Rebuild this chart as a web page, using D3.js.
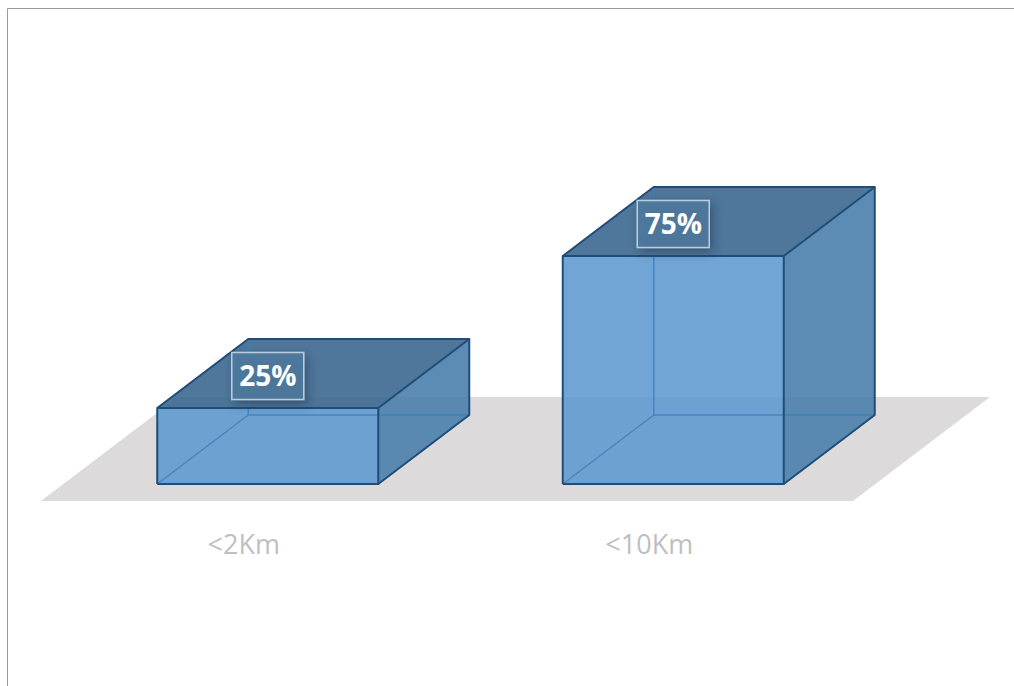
<!DOCTYPE html>
<html>
<head>
<meta charset="utf-8">
<script src="https://cdn.jsdelivr.net/npm/d3@7"></script>
<style>
  html, body { margin: 0; padding: 0; background: #fff; }
</style>
</head>
<body>
<div id="chart-area"></div>
<script>
const categories = ["<2Km", "<10Km"]
const values = [25, 75]
const valueLabels = ["25%", "75%"]

const WIDTH = 1014
const HEIGHT = 686
const BASE_Y = 484          // front bottom edge of the boxes
const BAR_W = 221
const DEPTH = { X: 91, Y: -69 }
const FLOOR_DEPTH = { X: 137, Y: -104 }

const svg = d3.select("#chart-area").append("svg")
  .attr("width", WIDTH)
  .attr("height", HEIGHT)

// drop shadow for data labels
const defs = svg.append("defs")
defs.append("filter")
  .attr("id", "shadow")
  .attr("x", "-50%").attr("y", "-50%")
  .attr("width", "200%").attr("height", "200%")
  .append("feDropShadow")
    .attr("dx", 3)
    .attr("dy", 4)
    .attr("stdDeviation", 5)
    .attr("flood-color", "#1a2f45")
    .attr("flood-opacity", 0.55)

// chart border (left + top)
svg.append("path")
  .attr("d", `M7.5,${HEIGHT} V8.5 H${WIDTH}`)
  .attr("fill", "none")
  .attr("stroke", "#9a9a9a")
  .attr("stroke-width", 1)

const x = d3.scaleBand()
  .domain(categories)
  .range([65, 876])
  .padding(0)

const y = d3.scaleLinear()
  .domain([0, 100])
  .range([BASE_Y, BASE_Y - 304])

// floor
const fl = x.range()[0] - 24
const fr = x.range()[1] - 23
const fy = 501
svg.append("path")
  .attr("d", `M${fl},${fy} L${fr},${fy} L${fr + FLOOR_DEPTH.X},${fy + FLOOR_DEPTH.Y} L${fl + FLOOR_DEPTH.X},${fy + FLOOR_DEPTH.Y} Z`)
  .attr("fill", "#dcdadb")

const line = d3.line()

const bars = svg.selectAll("g.bar")
  .data(categories.map((c, i) => ({ cat: c, value: values[i], label: valueLabels[i] })))
  .enter().append("g")
    .attr("class", "bar")

bars.each(function(d) {
  const g = d3.select(this)
  const cx = x(d.cat) + x.bandwidth() / 2
  const x0 = cx - BAR_W / 2
  const x1 = cx + BAR_W / 2
  const yb = y(0)
  const yt = y(d.value)
  const dx = DEPTH.X, dy = DEPTH.Y

  // right face
  g.append("path")
    .attr("d", line([[x1, yb], [x1 + dx, yb + dy], [x1 + dx, yt + dy], [x1, yt]]) + "Z")
    .attr("fill", "#4a7eab")
    .attr("fill-opacity", 0.9)

  // top face
  g.append("path")
    .attr("d", line([[x0, yt], [x1, yt], [x1 + dx, yt + dy], [x0 + dx, yt + dy]]) + "Z")
    .attr("fill", "#3c6890")
    .attr("fill-opacity", 0.9)

  // front face
  g.append("path")
    .attr("d", line([[x0, yb], [x1, yb], [x1, yt], [x0, yt]]) + "Z")
    .attr("fill", "#5d98cf")
    .attr("fill-opacity", 0.88)

  // hidden back edges, seen through the faces
  const hidden = [
    [[x0, yb], [x0 + dx, yb + dy]],
    [[x0 + dx, yb + dy], [x1 + dx, yb + dy]],
    [[x0 + dx, yb + dy], [x0 + dx, yt + dy]]
  ]
  hidden.forEach(h => {
    g.append("path")
      .attr("d", line(h))
      .attr("stroke", "#3e7dbb")
      .attr("stroke-opacity", 0.8)
      .attr("stroke-width", 1.5)
      .attr("fill", "none")
  })

  // visible edges
  const edges = [
    [[x0, yb], [x1, yb], [x1, yt], [x0, yt], [x0, yb]],
    [[x0, yt], [x0 + dx, yt + dy], [x1 + dx, yt + dy], [x1, yt]],
    [[x1, yb], [x1 + dx, yb + dy], [x1 + dx, yt + dy]]
  ]
  edges.forEach(e => {
    g.append("path")
      .attr("d", line(e))
      .attr("stroke", "#1f4d78")
      .attr("stroke-width", 2)
      .attr("stroke-linejoin", "round")
      .attr("fill", "none")
  })

  // data label
  const ly = yt - 32
  g.append("rect")
    .attr("x", cx - 36)
    .attr("y", ly - 23.5)
    .attr("width", 72)
    .attr("height", 47)
    .attr("fill", "#4f7aa0")
    .attr("fill-opacity", 0.85)
    .attr("stroke", "#d8e2ec")
    .attr("stroke-opacity", 0.8)
    .attr("stroke-width", 1.5)
    .attr("filter", "url(#shadow)")

  g.append("text")
    .attr("x", cx)
    .attr("y", ly + 10)
    .attr("text-anchor", "middle")
    .attr("font-family", "'Open Sans', sans-serif")
    .attr("font-weight", "bold")
    .attr("font-size", "28px")
    .attr("fill", "#ffffff")
    .text(d.label)

  // category label
  g.append("text")
    .attr("x", cx - 24)
    .attr("y", 554)
    .attr("text-anchor", "middle")
    .attr("font-family", "'Open Sans', sans-serif")
    .attr("font-size", "27px")
    .attr("fill", "#bfbfbf")
    .text(d.cat)
})
</script>
</body>
</html>
